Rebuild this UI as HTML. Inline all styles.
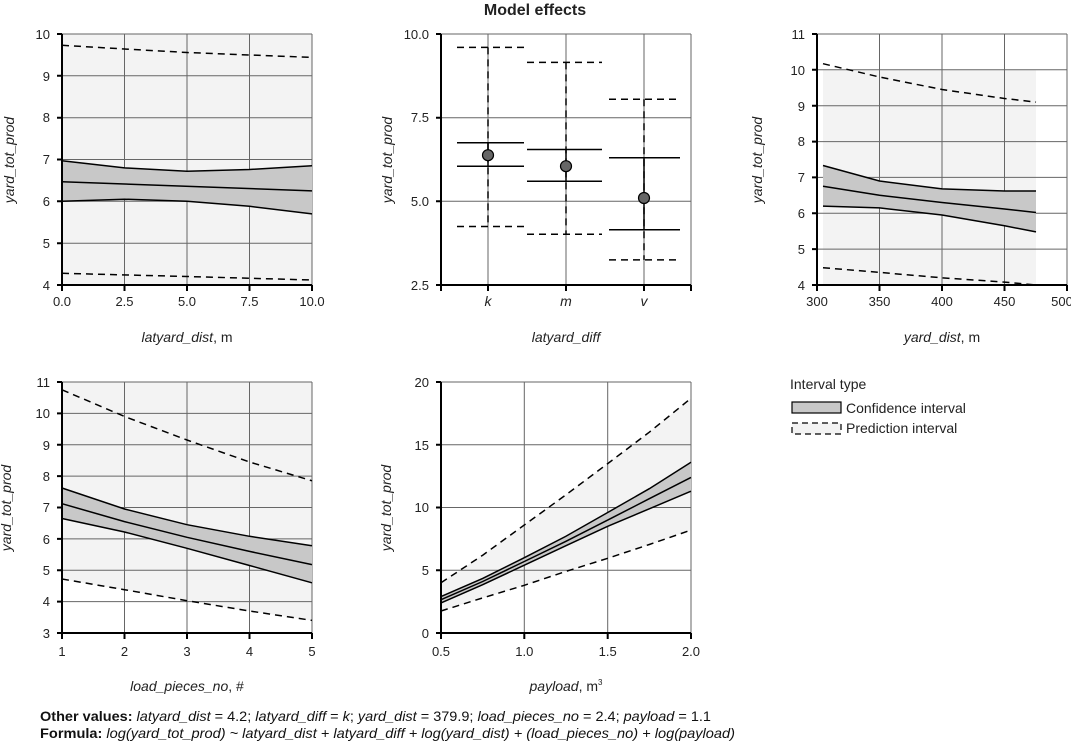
<!DOCTYPE html>
<html><head><meta charset="utf-8"><style>
html,body{margin:0;padding:0;background:#fff}
svg{display:block;font-family:"Liberation Sans",Arial,sans-serif}
.g{stroke:#666;stroke-width:1}
.ax{stroke:#000;stroke-width:2;fill:none}
.pi{stroke:#000;stroke-width:1.5;fill:none;stroke-dasharray:7,5}
.ln{stroke:#000;stroke-width:1.5;fill:none}
.t{font-size:13px;fill:#222}
.at{font-size:14px;fill:#222;font-style:italic}
</style></head><body>
<svg width="1071" height="743" viewBox="0 0 1071 743" xmlns="http://www.w3.org/2000/svg">
<text x="535" y="15" text-anchor="middle" font-size="16" font-weight="bold" fill="#222">Model effects</text>

<!-- Panel 1 -->
<rect x="62" y="34" width="250" height="251" fill="#f3f3f3"/>
<g class="g">
<line x1="124.5" y1="34" x2="124.5" y2="285"/><line x1="187" y1="34" x2="187" y2="285"/><line x1="249.5" y1="34" x2="249.5" y2="285"/><line x1="312" y1="34" x2="312" y2="285"/>
<line x1="62" y1="34" x2="312" y2="34"/><line x1="62" y1="75.8" x2="312" y2="75.8"/><line x1="62" y1="117.7" x2="312" y2="117.7"/><line x1="62" y1="159.5" x2="312" y2="159.5"/><line x1="62" y1="201.3" x2="312" y2="201.3"/><line x1="62" y1="243.2" x2="312" y2="243.2"/>
</g>
<polygon points="62,160.7 124.5,167.9 187,171.2 249.5,169.5 312,165.8 312,213.9 249.5,206.3 187,201.3 124.5,199.2 62,201.3" fill="#c8c8c8"/>
<polyline class="ln" points="62,160.7 124.5,167.9 187,171.2 249.5,169.5 312,165.8"/>
<polyline class="ln" points="62,181.7 312,190.9"/>
<polyline class="ln" points="62,201.3 124.5,199.2 187,201.3 249.5,206.3 312,213.9"/>
<polyline class="pi" points="62,45.3 124.5,49 187,52.5 249.5,55 312,57.4"/>
<polyline class="pi" points="62,273.3 187,276.5 312,280"/>
<path class="ax" d="M62,34V285H312M57,34H62M57,75.8H62M57,117.7H62M57,159.5H62M57,201.3H62M57,243.2H62M57,285H62M62,285V291M124.5,285V291M187,285V291M249.5,285V291M312,285V291"/>
<g class="t" text-anchor="end"><text x="50" y="39">10</text><text x="50" y="81">9</text><text x="50" y="122">8</text><text x="50" y="164">7</text><text x="50" y="206">6</text><text x="50" y="248">5</text><text x="50" y="290">4</text></g>
<g class="t" text-anchor="middle"><text x="62" y="306">0.0</text><text x="124.5" y="306">2.5</text><text x="187" y="306">5.0</text><text x="249.5" y="306">7.5</text><text x="312" y="306">10.0</text></g>
<text class="at" x="187" y="342" text-anchor="middle">latyard_dist<tspan font-style="normal">, m</tspan></text>
<text class="at" transform="translate(14,160) rotate(-90)" text-anchor="middle">yard_tot_prod</text>

<!-- Panel 2 -->
<g class="g">
<line x1="488" y1="34" x2="488" y2="285"/><line x1="566" y1="34" x2="566" y2="285"/><line x1="644" y1="34" x2="644" y2="285"/><line x1="691" y1="34" x2="691" y2="285"/>
<line x1="441" y1="34" x2="691" y2="34"/><line x1="441" y1="117.7" x2="691" y2="117.7"/><line x1="441" y1="201.3" x2="691" y2="201.3"/>
</g>
<g class="pi">
<line x1="488" y1="47.4" x2="488" y2="226.5"/><line x1="457" y1="47.4" x2="524" y2="47.4"/><line x1="457" y1="226.5" x2="524" y2="226.5"/>
<line x1="566" y1="62.4" x2="566" y2="234.2"/><line x1="527" y1="62.4" x2="602" y2="62.4"/><line x1="527" y1="234.2" x2="602" y2="234.2"/>
<line x1="644" y1="99.3" x2="644" y2="259.9"/><line x1="609" y1="99.3" x2="680" y2="99.3"/><line x1="609" y1="259.9" x2="680" y2="259.9"/>
</g>
<g class="ln">
<line x1="488" y1="142.8" x2="488" y2="166.2"/><line x1="457" y1="142.8" x2="524" y2="142.8"/><line x1="457" y1="166.2" x2="524" y2="166.2"/>
<line x1="566" y1="149.5" x2="566" y2="181.3"/><line x1="527" y1="149.5" x2="602" y2="149.5"/><line x1="527" y1="181.3" x2="602" y2="181.3"/>
<line x1="644" y1="157.8" x2="644" y2="229.8"/><line x1="609" y1="157.8" x2="680" y2="157.8"/><line x1="609" y1="229.8" x2="680" y2="229.8"/>
</g>
<g fill="#666" stroke="#000" stroke-width="1.2"><circle cx="488" cy="155.2" r="5.5"/><circle cx="566" cy="166.2" r="5.5"/><circle cx="644" cy="198" r="5.5"/></g>
<path class="ax" d="M441,34V285H691M436,34H441M436,117.7H441M436,201.3H441M436,285H441M441,285V291M488,285V291M566,285V291M644,285V291M691,285V291"/>
<g class="t" text-anchor="end"><text x="429" y="39">10.0</text><text x="429" y="122">7.5</text><text x="429" y="206">5.0</text><text x="429" y="290">2.5</text></g>
<g class="at" text-anchor="middle" font-size="13"><text x="488" y="306">k</text><text x="566" y="306">m</text><text x="644" y="306">v</text></g>
<text class="at" x="566" y="342" text-anchor="middle">latyard_diff</text>
<text class="at" transform="translate(392,160) rotate(-90)" text-anchor="middle">yard_tot_prod</text>

<!-- Panel 3 -->
<rect x="823" y="70" width="213" height="215" fill="#f3f3f3"/>
<g class="g">
<line x1="879.5" y1="34" x2="879.5" y2="285"/><line x1="942" y1="34" x2="942" y2="285"/><line x1="1004.5" y1="34" x2="1004.5" y2="285"/><line x1="1067" y1="34" x2="1067" y2="285"/>
<line x1="817" y1="34" x2="1067" y2="34"/><line x1="817" y1="69.8" x2="1067" y2="69.8"/><line x1="817" y1="105.7" x2="1067" y2="105.7"/><line x1="817" y1="141.6" x2="1067" y2="141.6"/><line x1="817" y1="177.4" x2="1067" y2="177.4"/><line x1="817" y1="213.3" x2="1067" y2="213.3"/><line x1="817" y1="249.1" x2="1067" y2="249.1"/>
</g>
<polygon points="823,165.5 879.5,181 942,188.9 1004.5,191 1036,191 1036,231.9 1004.5,225.8 942,215 879.5,207.9 823,206.1" fill="#c8c8c8"/>
<polyline class="ln" points="823,165.5 879.5,181 942,188.9 1004.5,191 1036,191"/>
<polyline class="ln" points="823,186.3 879.5,195.3 942,202.5 1004.5,209 1036,212.5"/>
<polyline class="ln" points="823,206.1 879.5,207.9 942,215 1004.5,225.8 1036,231.9"/>
<polyline class="pi" points="823,63.7 879.5,77 942,89.5 1004.5,98.5 1036,102.1"/>
<polyline class="pi" points="823,267.7 879.5,272.4 942,277.8 1004.5,282.1 1036,285"/>
<path class="ax" d="M817,34V285H1067M812,34H817M812,69.8H817M812,105.7H817M812,141.6H817M812,177.4H817M812,213.3H817M812,249.1H817M812,285H817M817,285V291M879.5,285V291M942,285V291M1004.5,285V291M1067,285V291"/>
<g class="t" text-anchor="end"><text x="805" y="39">11</text><text x="805" y="75">10</text><text x="805" y="111">9</text><text x="805" y="146">8</text><text x="805" y="182">7</text><text x="805" y="218">6</text><text x="805" y="254">5</text><text x="805" y="290">4</text></g>
<g class="t" text-anchor="middle"><text x="817" y="306">300</text><text x="879.5" y="306">350</text><text x="942" y="306">400</text><text x="1004.5" y="306">450</text><text x="1062" y="306">500</text></g>
<text class="at" x="942" y="342" text-anchor="middle">yard_dist<tspan font-style="normal">, m</tspan></text>
<text class="at" transform="translate(762,160) rotate(-90)" text-anchor="middle">yard_tot_prod</text>

<!-- Panel 4 -->
<polygon points="62,382 312,382 312,620.4 249.5,611 187,600.7 124.5,589.7 62,579" fill="#f3f3f3"/>
<g class="g">
<line x1="124.5" y1="382" x2="124.5" y2="633"/><line x1="187" y1="382" x2="187" y2="633"/><line x1="249.5" y1="382" x2="249.5" y2="633"/><line x1="312" y1="382" x2="312" y2="633"/>
<line x1="62" y1="382" x2="312" y2="382"/><line x1="62" y1="413.4" x2="312" y2="413.4"/><line x1="62" y1="444.8" x2="312" y2="444.8"/><line x1="62" y1="476.1" x2="312" y2="476.1"/><line x1="62" y1="507.5" x2="312" y2="507.5"/><line x1="62" y1="538.9" x2="312" y2="538.9"/><line x1="62" y1="570.3" x2="312" y2="570.3"/><line x1="62" y1="601.6" x2="312" y2="601.6"/>
</g>
<polygon points="62,488 124.5,509 187,524.7 249.5,536.3 312,545.8 312,582.8 249.5,565.5 187,548.3 124.5,532 62,518.5" fill="#c8c8c8"/>
<polyline class="ln" points="62,488 124.5,509 187,524.7 249.5,536.3 312,545.8"/>
<polyline class="ln" points="62,503.7 124.5,521.6 187,537.3 249.5,551.4 312,564.6"/>
<polyline class="ln" points="62,518.5 124.5,532 187,548.3 249.5,565.5 312,582.8"/>
<polyline class="pi" points="62,389.8 124.5,416.5 187,440 249.5,462 312,480.8"/>
<polyline class="pi" points="62,579 124.5,589.7 187,600.7 249.5,611 312,620.4"/>
<path class="ax" d="M62,382V633H312M57,382H62M57,413.4H62M57,444.8H62M57,476.1H62M57,507.5H62M57,538.9H62M57,570.3H62M57,601.6H62M57,633H62M62,633V639M124.5,633V639M187,633V639M249.5,633V639M312,633V639"/>
<g class="t" text-anchor="end"><text x="50" y="387">11</text><text x="50" y="418">10</text><text x="50" y="450">9</text><text x="50" y="481">8</text><text x="50" y="512">7</text><text x="50" y="544">6</text><text x="50" y="575">5</text><text x="50" y="606">4</text><text x="50" y="638">3</text></g>
<g class="t" text-anchor="middle"><text x="62" y="656">1</text><text x="124.5" y="656">2</text><text x="187" y="656">3</text><text x="249.5" y="656">4</text><text x="312" y="656">5</text></g>
<text class="at" x="187" y="691" text-anchor="middle">load_pieces_no<tspan font-style="normal">, #</tspan></text>
<text class="at" font-size="13" transform="translate(11,508) rotate(-90)" text-anchor="middle">yard_tot_prod</text>

<!-- Panel 5 -->
<polygon points="441,582.8 482.7,555.2 524.3,525 565.7,495 607.7,463.6 649.3,432.2 691,398.3 691,530.1 649.3,544.5 607.7,558.3 565.7,571.5 524.3,585.3 482.7,597.9 441,611" fill="#f3f3f3"/>
<g class="g">
<line x1="524.3" y1="382" x2="524.3" y2="633"/><line x1="607.7" y1="382" x2="607.7" y2="633"/><line x1="691" y1="382" x2="691" y2="633"/>
<line x1="441" y1="382" x2="691" y2="382"/><line x1="441" y1="444.8" x2="691" y2="444.8"/><line x1="441" y1="507.5" x2="691" y2="507.5"/><line x1="441" y1="570.3" x2="691" y2="570.3"/>
</g>
<polygon points="441,596.6 482.7,578.4 524.3,557.7 565.7,536.4 607.7,512.5 649.3,488.7 691,462.3 691,491.2 649.3,508.8 607.7,526.3 565.7,545.8 524.3,565.2 482.7,584.7 441,602.9" fill="#c8c8c8"/>
<polyline class="ln" points="441,596.6 482.7,578.4 524.3,557.7 565.7,536.4 607.7,512.5 649.3,488.7 691,462.3"/>
<polyline class="ln" points="441,599.7 482.7,581.5 524.3,561.5 565.7,541.4 607.7,520.1 649.3,498.7 691,477.4"/>
<polyline class="ln" points="441,602.9 482.7,584.7 524.3,565.2 565.7,545.8 607.7,526.3 649.3,508.8 691,491.2"/>
<polyline class="pi" points="441,582.8 482.7,555.2 524.3,525 565.7,495 607.7,463.6 649.3,432.2 691,398.3"/>
<polyline class="pi" points="441,611 482.7,597.9 524.3,585.3 565.7,571.5 607.7,558.3 649.3,544.5 691,530.1"/>
<path class="ax" d="M441,382V633H691M436,382H441M436,444.8H441M436,507.5H441M436,570.3H441M436,633H441M441,633V639M524.3,633V639M607.7,633V639M691,633V639"/>
<g class="t" text-anchor="end"><text x="429" y="387">20</text><text x="429" y="450">15</text><text x="429" y="512">10</text><text x="429" y="575">5</text><text x="429" y="638">0</text></g>
<g class="t" text-anchor="middle"><text x="441" y="656">0.5</text><text x="524.3" y="656">1.0</text><text x="607.7" y="656">1.5</text><text x="691" y="656">2.0</text></g>
<text class="at" x="566" y="691" text-anchor="middle">payload<tspan font-style="normal">, m<tspan font-size="8" dy="-6">3</tspan></tspan></text>
<text class="at" transform="translate(391,508) rotate(-90)" text-anchor="middle">yard_tot_prod</text>

<!-- Legend -->
<text x="790" y="389" font-size="14" fill="#222">Interval type</text>
<rect x="792" y="402" width="49" height="11" fill="#c8c8c8" stroke="#000" stroke-width="1.2"/>
<text x="846" y="413" font-size="14" fill="#222">Confidence interval</text>
<rect x="792" y="423" width="49" height="11" fill="#f3f3f3" stroke="#000" stroke-width="1.2" stroke-dasharray="6,4"/>
<text x="846" y="433" font-size="14" fill="#222">Prediction interval</text>

<!-- Footer -->
<text x="40" y="721" font-size="14" fill="#111" textLength="671" lengthAdjust="spacingAndGlyphs"><tspan font-weight="bold">Other values:</tspan> <tspan font-style="italic">latyard_dist</tspan> = 4.2; <tspan font-style="italic">latyard_diff</tspan> = <tspan font-style="italic">k</tspan>; <tspan font-style="italic">yard_dist</tspan> = 379.9; <tspan font-style="italic">load_pieces_no</tspan> = 2.4; <tspan font-style="italic">payload</tspan> = 1.1</text>
<text x="40" y="738" font-size="14" fill="#111" textLength="695" lengthAdjust="spacingAndGlyphs"><tspan font-weight="bold">Formula:</tspan>  <tspan font-style="italic">log(yard_tot_prod) ~ latyard_dist + latyard_diff + log(yard_dist) + (load_pieces_no) + log(payload)</tspan></text>
</svg>
</body></html>
